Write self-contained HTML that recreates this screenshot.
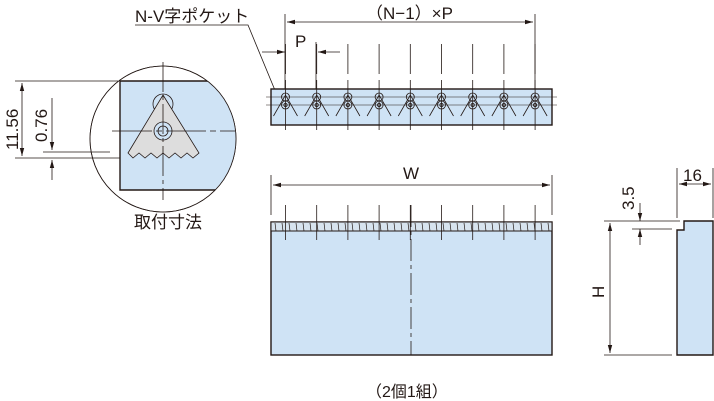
<!DOCTYPE html>
<html><head><meta charset="utf-8"><style>
html,body{margin:0;padding:0;background:#fff;width:714px;height:401px;overflow:hidden}
text{font-family:"Liberation Sans","Noto Sans CJK JP",sans-serif;fill:#231815}
</style></head><body>
<svg id="s" width="714" height="401" viewBox="0 0 714 401" xmlns="http://www.w3.org/2000/svg">
<defs>
<marker id="a" markerWidth="8" markerHeight="6" refX="8" refY="3" orient="auto-start-reverse" markerUnits="userSpaceOnUse"><path d="M0,0.8L8,3L0,5.2z" fill="#231815"/></marker>
<clipPath id="c"><circle cx="163" cy="139" r="73"/></clipPath>
</defs>
<g stroke="#231815" fill="none" stroke-width="0.8">
<circle cx="163" cy="139" r="73" fill="#fff"/>
<g clip-path="url(#c)">
<path d="M120,81H240V190H120Z" fill="#cfe3f5" stroke="none"/>
<path d="M240,81H120V190H240" stroke-width="1.4"/>
<circle cx="163" cy="104" r="10" fill="#cfe3f5"/>
<path d="M163,95L199,153L193,158L187,153L181,158L175,153L169,158L163,153L157,158L151,153L145,158L139,153L133,158L128,153Z" fill="#ddd"/>
<circle cx="163" cy="131" r="9" fill="#cfe3f5"/>
<circle cx="163" cy="131" r="5"/>
<path d="M112,131H235" stroke-dasharray="40,4,6,4"/>
</g>
<circle cx="163" cy="139" r="73"/>
<path d="M163,62V200" stroke-dasharray="30,4,4,4"/>
<path d="M15,81H118M15,158H120M43,152H110"/>
<path d="M22,83V156" marker-start="url(#a)" marker-end="url(#a)"/>
<path d="M52,98V150" marker-end="url(#a)"/>
<path d="M52,180V160" marker-end="url(#a)"/>
<path d="M135,25H248L279,100" marker-end="url(#a)"/>
<path d="M285,14V89M535,14V89M316,42V89"/>
<path d="M287,22H533" marker-start="url(#a)" marker-end="url(#a)"/>
<path d="M262,52H285" marker-end="url(#a)"/>
<path d="M340,52H318" marker-end="url(#a)"/>
<rect x="271" y="89" width="281" height="36" fill="#cfe3f5" stroke-width="1.4"/>
<g id="pk"></g>
<path d="M266,97H557M266,105H557" stroke-width="0.6"/>
<path d="M271,175V215M552,175V215"/>
<path d="M273,185H550" marker-start="url(#a)" marker-end="url(#a)"/>
<rect x="271" y="222" width="281" height="133" fill="#cfe3f5" stroke-width="1.4"/>
<rect x="271" y="222" width="281" height="9" fill="#d7e3ee" stroke-width="1"/>
<g id="th"></g>
<path d="M411,205V355" stroke-dasharray="22,4,4,4"/>
<path d="M677,230H684V221H713V355H677Z" fill="#cfe3f5" stroke-width="1.4"/>
<path d="M677,168V218M713,168V218"/>
<path d="M679,184H711" marker-start="url(#a)" marker-end="url(#a)"/>
<path d="M604,221H680M632,229H672M604,355H672"/>
<path d="M610,223V353" marker-start="url(#a)" marker-end="url(#a)"/>
<path d="M640,203V221" marker-end="url(#a)"/>
<path d="M640,245V229" marker-end="url(#a)"/>
</g>
<text x="135" y="22" font-size="17">N-V字ポケット</text>
<text x="366" y="19" font-size="17">（N−1）×P</text>
<text x="295" y="47" font-size="17">P</text>
<text x="403" y="179" font-size="17">W</text>
<text x="683" y="181" font-size="17">16</text>
<text x="366" y="397" font-size="16">（2個1組）</text>
<text x="134" y="228" font-size="17">取付寸法</text>
<text font-size="17" transform="translate(18,150) rotate(-90)">11.56</text>
<text font-size="17" transform="translate(47,142) rotate(-90)">0.76</text>
<text font-size="17" transform="translate(634,210) rotate(-90)">3.5</text>
<text font-size="17" transform="translate(604,298) rotate(-90)">H</text>
</svg>
<script>
var ns="http://www.w3.org/2000/svg";
function el(p,t,a){var e=document.createElementNS(ns,t);for(var k in a)e.setAttribute(k,a[k]);p.appendChild(e);}
var pk=document.getElementById('pk'),th=document.getElementById('th');
for(var i=0;i<9;i++){var x=285.5+i*31.2;
el(pk,'path',{d:'M'+x+',80V130M'+x+',44V74'});
el(pk,'path',{d:'M'+(x-12)+',116L'+x+',95L'+(x+12)+',116'});
el(pk,'circle',{cx:x,cy:97,r:4});
el(pk,'circle',{cx:x,cy:105,r:4});
el(pk,'circle',{cx:x,cy:105,r:1.6});
el(th,'path',{d:'M'+x+',205V240'});}
for(var j=0;j<40;j++){var xx=275+j*7;el(th,'path',{d:'M'+xx+',223L'+(xx+1)+',231','stroke-width':'0.7'});}
</script>
</body></html>
